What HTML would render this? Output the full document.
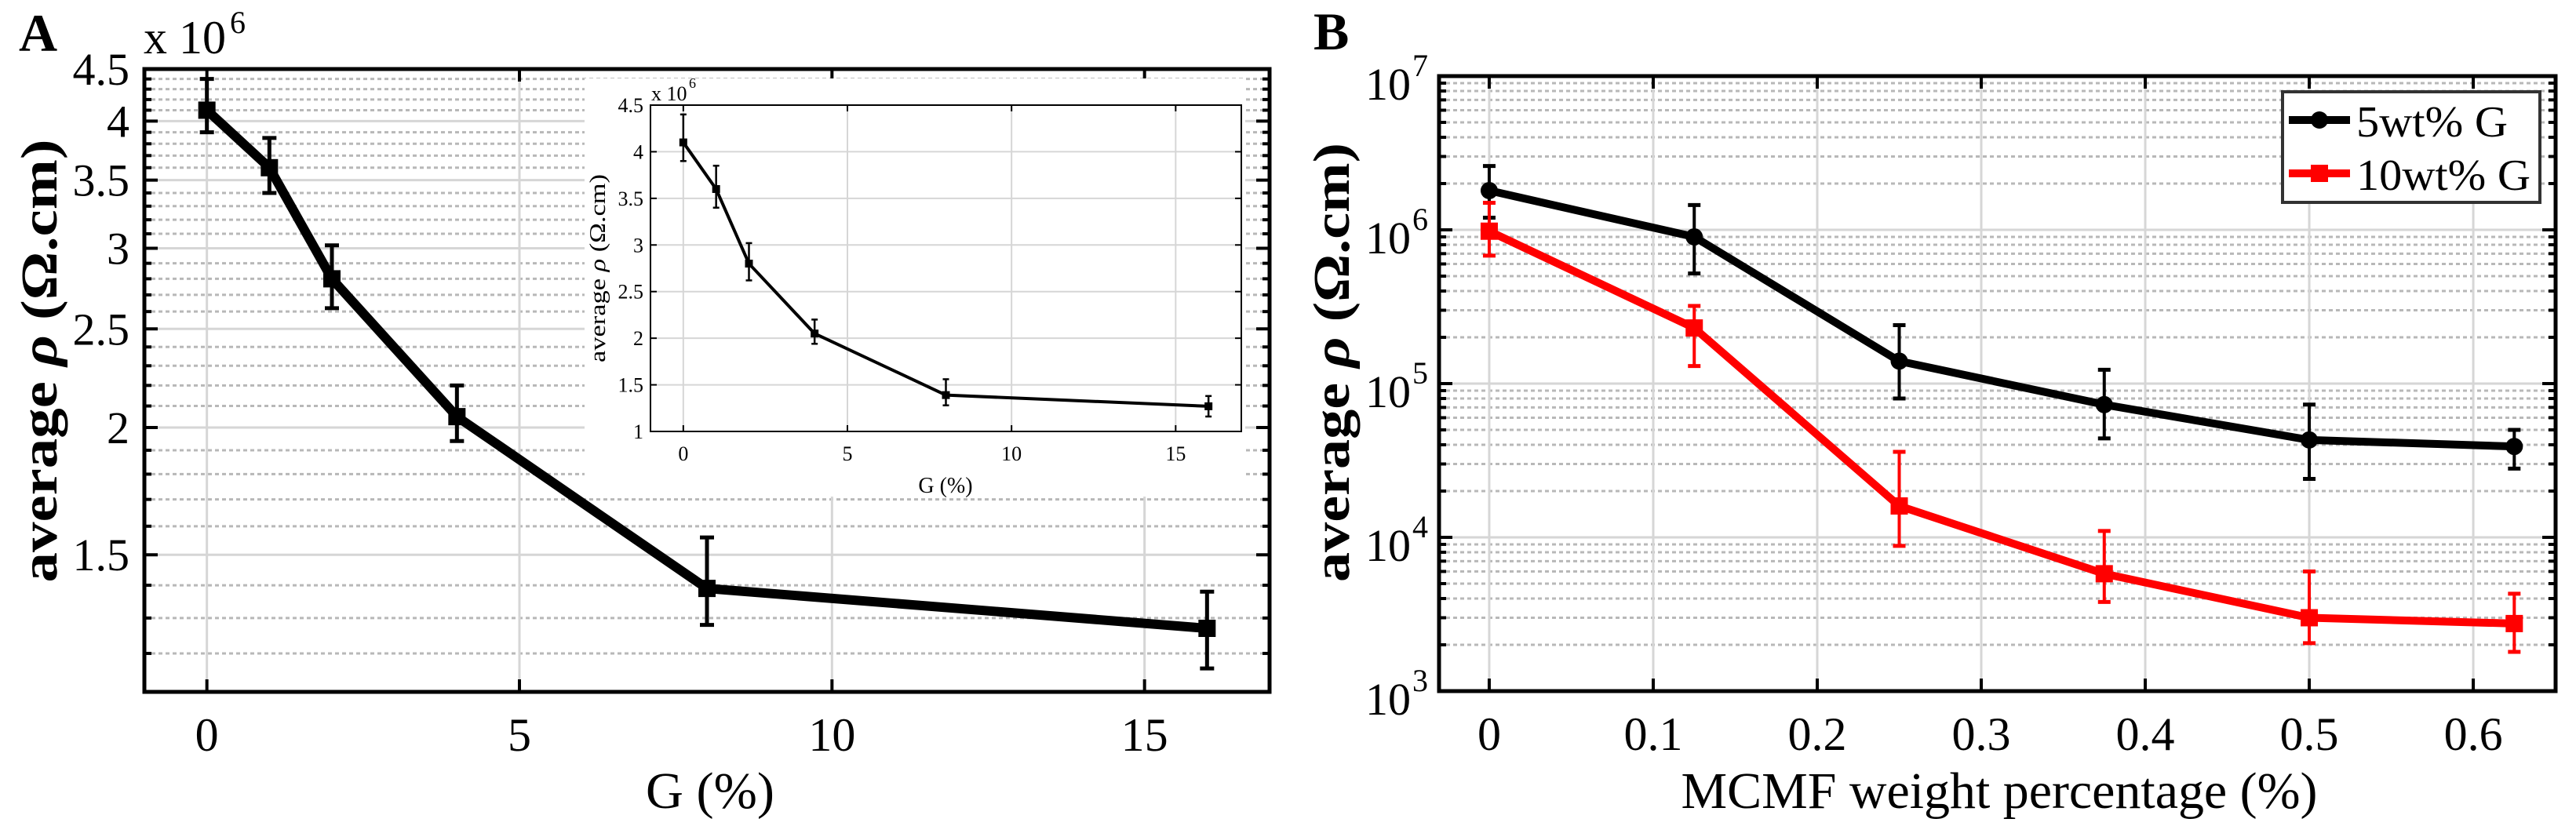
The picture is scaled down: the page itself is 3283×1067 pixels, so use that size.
<!DOCTYPE html>
<html><head><meta charset="utf-8">
<style>
html,body{margin:0;padding:0;background:#fff;}
svg{display:block;font-family:"Liberation Serif",serif;}
</style></head>
<body>
<svg id="fig" width="3283" height="1067" viewBox="0 0 3283 1067" xmlns="http://www.w3.org/2000/svg">
  <rect width="3283" height="1067" fill="#fff"/>
  <g id="panelA"></g>
  <g id="panelB"></g>
</svg>
<script>
// ---------- Panel A data ----------
const aX = [0, 1, 2, 4, 8, 16];
const aY = [4.1, 3.6, 2.8, 2.05, 1.39, 1.27];
const aLo = [3.9, 3.4, 2.62, 1.94, 1.28, 1.16];
const aHi = [4.4, 3.85, 3.02, 2.2, 1.56, 1.38];
const aXTicks = [0, 5, 10, 15];
const aYTicks = [1.5, 2, 2.5, 3, 3.5, 4, 4.5];
const aYTickLabels = ["1.5", "2", "2.5", "3", "3.5", "4", "4.5"];
const aYMinor = [1.2, 1.3, 1.4, 1.6, 1.7, 1.8, 1.9, 2.1, 2.2, 2.3, 2.4, 2.6, 2.7, 2.8, 2.9, 3.1, 3.2, 3.3, 3.4, 3.6, 3.7, 3.8, 3.9, 4.1, 4.2, 4.3, 4.4];
const insetYTicks = [1, 1.5, 2, 2.5, 3, 3.5, 4, 4.5];
const insetYTickLabels = ["1", "1.5", "2", "2.5", "3", "3.5", "4", "4.5"];
// ---------- Panel B data ----------
const bX = [0, 0.125, 0.25, 0.375, 0.5, 0.625];
const b5Y = [1.8e6, 9.0e5, 1.4e5, 7.3e4, 4.3e4, 3.9e4];
const b5Lo = [1.2e6, 5.2e5, 8.0e4, 4.4e4, 2.4e4, 2.8e4];
const b5Hi = [2.6e6, 1.45e6, 2.4e5, 1.23e5, 7.3e4, 5.0e4];
const b10Y = [9.8e5, 2.3e5, 1.6e4, 5.8e3, 3.0e3, 2.75e3];
const b10Lo = [6.8e5, 1.3e5, 8.8e3, 3.8e3, 2.05e3, 1.8e3];
const b10Hi = [1.5e6, 3.2e5, 3.6e4, 1.1e4, 6.0e3, 4.3e3];
const bXTicks = [0, 0.1, 0.2, 0.3, 0.4, 0.5, 0.6];
const bXTickLabels = ["0", "0.1", "0.2", "0.3", "0.4", "0.5", "0.6"];
const bYExp = [3, 4, 5, 6, 7];
const seriesNames = ["5wt% G", "10wt% G"];

const NS = "http://www.w3.org/2000/svg";
function mk(parent, tag, attrs, text) {
  const e = document.createElementNS(NS, tag);
  for (const k in attrs) e.setAttribute(k, attrs[k]);
  if (text !== undefined) e.textContent = text;
  parent.appendChild(e);
  return e;
}
const GRID = "#d6d6d6", MINOR = "#b8b8b8";

// ================= PANEL A =================
const A = document.getElementById("panelA");
const aL = 184, aR = 1618, aT = 88, aB = 882;
const aXmin = -1, aXmax = 17, aYmin = 1.1, aYmax = 4.5;
const ax = v => aL + (v - aXmin) / (aXmax - aXmin) * (aR - aL);
const ay = v => aB - (Math.log10(v) - Math.log10(aYmin)) / (Math.log10(aYmax) - Math.log10(aYmin)) * (aB - aT);

aYMinor.forEach(v => {
  const l = mk(A, "line", {x1: aL, x2: aR, y1: ay(v), y2: ay(v), stroke: MINOR, "stroke-width": 3, "stroke-dasharray": "5 4"});
  
  
  mk(A, "line", {x1: aL, x2: aL + 9, y1: ay(v), y2: ay(v), stroke: "#000", "stroke-width": 4});
  mk(A, "line", {x1: aR, x2: aR - 9, y1: ay(v), y2: ay(v), stroke: "#000", "stroke-width": 4});
});
aYTicks.forEach((v, i) => {
  const l = mk(A, "line", {x1: aL, x2: aR, y1: ay(v), y2: ay(v), stroke: GRID, "stroke-width": 3});
  
  
  mk(A, "line", {x1: aL, x2: aL + 17, y1: ay(v), y2: ay(v), stroke: "#000", "stroke-width": 4});
  mk(A, "line", {x1: aR, x2: aR - 17, y1: ay(v), y2: ay(v), stroke: "#000", "stroke-width": 4});
  const t = mk(A, "text", {x: 165, y: ay(v) + 20, "text-anchor": "end", "font-size": 58}, aYTickLabels[i]);
  
  
});
aXTicks.forEach(v => {
  const l = mk(A, "line", {x1: ax(v), x2: ax(v), y1: aT, y2: aB, stroke: GRID, "stroke-width": 3});
  
  
  mk(A, "line", {x1: ax(v), x2: ax(v), y1: aB, y2: aB - 16, stroke: "#000", "stroke-width": 4});
  mk(A, "line", {x1: ax(v), x2: ax(v), y1: aT, y2: aT + 16, stroke: "#000", "stroke-width": 4});
  const t = mk(A, "text", {x: ax(v), y: 957, "text-anchor": "middle", "font-size": 60, textLength: String(v).length * 30, lengthAdjust: "spacingAndGlyphs"}, String(v));
  
  
});

// main series A
const aPts = aX.map((x, i) => ax(x) + "," + ay(aY[i])).join(" ");
const aLine = mk(A, "polyline", {points: aPts, fill: "none", stroke: "#000", "stroke-width": 12, "stroke-linejoin": "round"});


aX.forEach((x, i) => {
  const g = mk(A, "g", {});
  
  
  const cx = ax(x);
  mk(g, "line", {x1: cx, x2: cx, y1: ay(aLo[i]), y2: ay(aHi[i]), stroke: "#000", "stroke-width": 5});
  mk(g, "line", {x1: cx - 9, x2: cx + 9, y1: ay(aLo[i]), y2: ay(aLo[i]), stroke: "#000", "stroke-width": 5});
  mk(g, "line", {x1: cx - 9, x2: cx + 9, y1: ay(aHi[i]), y2: ay(aHi[i]), stroke: "#000", "stroke-width": 5});
  mk(g, "rect", {x: cx - 11, y: ay(aY[i]) - 11, width: 22, height: 22, fill: "#000"});
});

// inset
const inset = mk(A, "g", {});


mk(inset, "rect", {x: 745, y: 100, width: 842, height: 533, fill: "#fff"});
const iL = 829, iR = 1582, iT = 134, iB = 550;
const ix = v => iL + (v - aXmin) / (aXmax - aXmin) * (iR - iL);
const iy = v => iB - (v - 1) / 3.5 * (iB - iT);
insetYTicks.forEach((v, i) => {
  if (v > 1 && v < 4.5) mk(inset, "line", {x1: iL, x2: iR, y1: iy(v), y2: iy(v), stroke: GRID, "stroke-width": 2});
  mk(inset, "line", {x1: iL, x2: iL + 8, y1: iy(v), y2: iy(v), stroke: "#000", "stroke-width": 2});
  mk(inset, "line", {x1: iR, x2: iR - 8, y1: iy(v), y2: iy(v), stroke: "#000", "stroke-width": 2});
  const t = mk(inset, "text", {x: 820, y: iy(v) + 9, "text-anchor": "end", "font-size": 26}, insetYTickLabels[i]);
  
  
});
aXTicks.forEach(v => {
  mk(inset, "line", {x1: ix(v), x2: ix(v), y1: iT, y2: iB, stroke: GRID, "stroke-width": 2});
  mk(inset, "line", {x1: ix(v), x2: ix(v), y1: iB, y2: iB - 8, stroke: "#000", "stroke-width": 2});
  mk(inset, "line", {x1: ix(v), x2: ix(v), y1: iT, y2: iT + 8, stroke: "#000", "stroke-width": 2});
  const t = mk(inset, "text", {x: ix(v), y: 587, "text-anchor": "middle", "font-size": 26}, String(v));
  
  
});
mk(inset, "rect", {x: iL, y: iT, width: iR - iL, height: iB - iT, fill: "none", stroke: "#000", "stroke-width": 2});
const iPts = aX.map((x, i) => ix(x) + "," + iy(aY[i])).join(" ");
mk(inset, "polyline", {points: iPts, fill: "none", stroke: "#000", "stroke-width": 4, "stroke-linejoin": "round"});
aX.forEach((x, i) => {
  const cx = ix(x);
  mk(inset, "line", {x1: cx, x2: cx, y1: iy(aLo[i]), y2: iy(aHi[i]), stroke: "#000", "stroke-width": 2.5});
  mk(inset, "line", {x1: cx - 4, x2: cx + 4, y1: iy(aLo[i]), y2: iy(aLo[i]), stroke: "#000", "stroke-width": 2.5});
  mk(inset, "line", {x1: cx - 4, x2: cx + 4, y1: iy(aHi[i]), y2: iy(aHi[i]), stroke: "#000", "stroke-width": 2.5});
  mk(inset, "rect", {x: cx - 5, y: iy(aY[i]) - 5, width: 10, height: 10, fill: "#000"});
});
let t;
t = mk(inset, "text", {x: 830, y: 128, "font-size": 26}, "x 10");


mk(inset, "text", {x: 878, y: 112, "font-size": 18}, "6");
t = mk(inset, "text", {x: 1205, y: 628, "text-anchor": "middle", "font-size": 28}, "G (%)");


t = mk(inset, "text", {x: 0, y: 0, "text-anchor": "middle", "font-size": 28, transform: "translate(771,342) rotate(-90)", textLength: 240, lengthAdjust: "spacingAndGlyphs"});
t.innerHTML = 'average <tspan font-style="italic">ρ</tspan> (Ω.cm)';



mk(A, "rect", {x: aL, y: aT, width: aR - aL, height: aB - aT, fill: "none", stroke: "#000", "stroke-width": 5});
t = mk(A, "text", {x: 24, y: 65, "font-size": 68, "font-weight": "bold"}, "A");


t = mk(A, "text", {x: 183, y: 68, "font-size": 60}, "x 10");


mk(A, "text", {x: 293, y: 42, "font-size": 40}, "6");
t = mk(A, "text", {x: 905, y: 1030, "text-anchor": "middle", "font-size": 66, textLength: 164, lengthAdjust: "spacingAndGlyphs"}, "G (%)");


t = mk(A, "text", {x: 0, y: 0, "text-anchor": "middle", "font-size": 66, "font-weight": "bold", transform: "translate(72,460) rotate(-90)", textLength: 565, lengthAdjust: "spacingAndGlyphs"});
t.innerHTML = 'average <tspan font-style="italic">ρ</tspan> (Ω.cm)';



// ================= PANEL B =================
const B = document.getElementById("panelB");
const bL = 1834, bR = 3257, bT = 97, bB = 881;
const bXmin = -0.0306, bXmax = 0.6502;
const bx = v => bL + (v - bXmin) / (bXmax - bXmin) * (bR - bL);
const by = v => bB - (Math.log10(v) - 3) / 4 * (bB - bT);

for (let e = 3; e < 7; e++) {
  for (let m = 2; m <= 9; m++) {
    const v = m * Math.pow(10, e);
    const l = mk(B, "line", {x1: bL, x2: bR, y1: by(v), y2: by(v), stroke: MINOR, "stroke-width": 3, "stroke-dasharray": "5 4"});
    
    
    mk(B, "line", {x1: bL, x2: bL + 9, y1: by(v), y2: by(v), stroke: "#000", "stroke-width": 4});
    mk(B, "line", {x1: bR, x2: bR - 9, y1: by(v), y2: by(v), stroke: "#000", "stroke-width": 4});
  }
}
bYExp.forEach(e => {
  const v = Math.pow(10, e);
  const l = mk(B, "line", {x1: bL, x2: bR, y1: by(v), y2: by(v), stroke: GRID, "stroke-width": 3});
  
  
  mk(B, "line", {x1: bL, x2: bL + 17, y1: by(v), y2: by(v), stroke: "#000", "stroke-width": 4});
  mk(B, "line", {x1: bR, x2: bR - 17, y1: by(v), y2: by(v), stroke: "#000", "stroke-width": 4});
  const tl = mk(B, "text", {x: 1740, y: by(v) + 30, "font-size": 58}, "10");
  
  
  mk(B, "text", {x: 1800, y: by(v), "font-size": 40}, String(e));
});
bXTicks.forEach((v, i) => {
  const l = mk(B, "line", {x1: bx(v), x2: bx(v), y1: bT, y2: bB, stroke: GRID, "stroke-width": 3});
  
  
  mk(B, "line", {x1: bx(v), x2: bx(v), y1: bB, y2: bB - 16, stroke: "#000", "stroke-width": 4});
  mk(B, "line", {x1: bx(v), x2: bx(v), y1: bT, y2: bT + 16, stroke: "#000", "stroke-width": 4});
  const tl = mk(B, "text", {x: bx(v), y: 956, "text-anchor": "middle", "font-size": 60}, bXTickLabels[i]);
  
  
});

function series(ys, lo, hi, color, marker, name) {
  const g = mk(B, "g", {});
  
  
  mk(g, "polyline", {points: bX.map((x, i) => bx(x) + "," + by(ys[i])).join(" "), fill: "none", stroke: color, "stroke-width": 10, "stroke-linejoin": "round"});
  bX.forEach((x, i) => {
    const cx = bx(x);
    mk(g, "line", {x1: cx, x2: cx, y1: by(lo[i]), y2: by(hi[i]), stroke: color, "stroke-width": 4});
    mk(g, "line", {x1: cx - 8, x2: cx + 8, y1: by(lo[i]), y2: by(lo[i]), stroke: color, "stroke-width": 5});
    mk(g, "line", {x1: cx - 8, x2: cx + 8, y1: by(hi[i]), y2: by(hi[i]), stroke: color, "stroke-width": 5});
    if (marker === "circle") mk(g, "circle", {cx: cx, cy: by(ys[i]), r: 11, fill: color});
    else mk(g, "rect", {x: cx - 11, y: by(ys[i]) - 11, width: 22, height: 22, fill: color});
  });
}
series(b5Y, b5Lo, b5Hi, "#000", "circle", "series-5wt-g");
series(b10Y, b10Lo, b10Hi, "#ff0000", "square", "series-10wt-g");

mk(B, "rect", {x: bL, y: bT, width: bR - bL, height: bB - bT, fill: "none", stroke: "#000", "stroke-width": 5});

// legend
const lg = mk(B, "g", {});


mk(lg, "rect", {x: 2909, y: 117, width: 328, height: 141, fill: "#fff", stroke: "#333", "stroke-width": 4});
const le1 = mk(lg, "g", {});


mk(le1, "line", {x1: 2917, x2: 2995, y1: 153, y2: 153, stroke: "#000", "stroke-width": 10});
mk(le1, "circle", {cx: 2956, cy: 153, r: 11, fill: "#000"});
mk(le1, "text", {x: 3003, y: 174, "font-size": 56, textLength: 193, lengthAdjust: "spacingAndGlyphs"}, seriesNames[0]);
const le2 = mk(lg, "g", {});


mk(le2, "line", {x1: 2917, x2: 2995, y1: 221, y2: 221, stroke: "#ff0000", "stroke-width": 10});
mk(le2, "rect", {x: 2945, y: 210, width: 22, height: 22, fill: "#ff0000"});
mk(le2, "text", {x: 3003, y: 242, "font-size": 56, textLength: 222, lengthAdjust: "spacingAndGlyphs"}, seriesNames[1]);

t = mk(B, "text", {x: 1674, y: 63, "font-size": 68, "font-weight": "bold"}, "B");


t = mk(B, "text", {x: 2548, y: 1030, "text-anchor": "middle", "font-size": 66, textLength: 811, lengthAdjust: "spacingAndGlyphs"}, "MCMF weight percentage (%)");


t = mk(B, "text", {x: 0, y: 0, "text-anchor": "middle", "font-size": 66, "font-weight": "bold", transform: "translate(1719,462) rotate(-90)", textLength: 560, lengthAdjust: "spacingAndGlyphs"});
t.innerHTML = 'average <tspan font-style="italic">ρ</tspan> (Ω.cm)';


</script>
</body></html>
